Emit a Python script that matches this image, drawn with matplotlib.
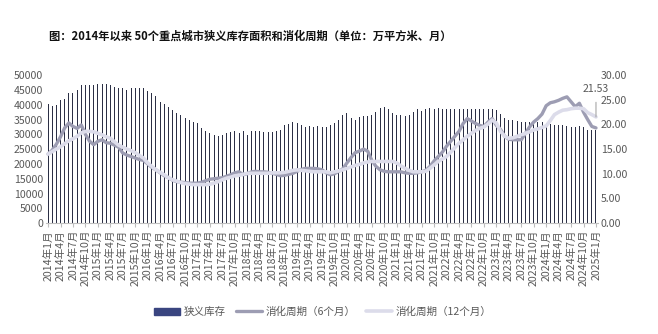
import numpy as np
import matplotlib
matplotlib.use("Agg")
from matplotlib import pyplot as plt

plt.rcParams['font.family'] = ['Noto Sans CJK SC', 'DejaVu Sans']

# 2014年1月 .. 2025年1月, monthly
months = [f"{y}年{m}月" for y in range(2014, 2026) for m in range(1, 13)][:133]

# 狭义库存 (万平方米)
inventory = [
    40400, 39700, 39900, 41500, 42100, 43800, 43800, 44900, 46600, 46600, 46600, 46700,
    47000, 47000, 47000, 46600, 46100, 45700, 45700, 44900, 45700, 45700, 45700, 45500,
    44700, 43800, 42900, 41000, 40400, 39300, 38200, 37100, 36500, 35400, 34800, 34200,
    33700, 32000, 31200, 30300, 29800, 29400, 29800, 30300, 30700, 31000, 30300, 31200,
    29800, 31000, 31200, 31000, 30700, 30700, 30700, 31000, 31500, 33000, 33600, 34300,
    33800, 33000, 32600, 32700, 32600, 32900, 32600, 32600, 33100, 33700, 34800, 36700,
    37100, 35400, 34800, 35900, 36200, 36300, 36700, 37600, 38800, 39300, 38400, 37100,
    36700, 36500, 36300, 36500, 37600, 38400, 38000, 38500, 38800, 38700, 38900, 38500,
    38400, 38400, 38400, 38600, 38400, 38400, 38600, 38700, 38700, 38700, 38600, 38700,
    38300, 37000, 35500, 34800, 34700, 34600, 34300, 34300, 34200, 34300, 34300, 34200,
    33800, 33500, 33200, 33100, 33000, 32700, 32600, 32600, 32800, 32400, 31600, 31500,
    31400,
]

# 消化周期 (月)
cycle_6m = [
    14.0, 14.8, 16.0, 17.5, 19.3, 20.3, 19.6, 19.2, 19.9, 18.0, 16.6, 15.9,
    16.6, 16.9, 16.3, 16.2, 15.8, 15.4, 14.2, 13.8, 13.5, 13.2, 12.9, 12.7,
    12.0, 11.3, 10.8, 10.2, 9.6, 9.2, 8.7, 8.4, 8.3, 8.2, 8.1, 8.1,
    8.1, 8.3, 8.6, 8.9, 9.0, 9.1, 9.2, 9.5, 9.8, 10.2, 10.4, 9.8,
    10.0, 10.4, 10.5, 10.4, 10.4, 10.3, 10.1, 9.9, 9.6, 9.7, 9.9, 10.1,
    10.5, 10.9, 11.1, 11.1, 11.1, 11.0, 10.8, 10.2, 9.8, 10.0, 10.5, 11.0,
    12.2, 13.3, 14.3, 14.6, 15.0, 14.6, 12.7, 11.5, 10.8, 10.5, 10.4, 10.4,
    10.4, 10.4, 10.2, 10.1, 10.1, 10.2, 10.4, 10.7, 11.5, 12.6, 13.5, 14.4,
    15.6, 16.6, 17.6, 18.6, 20.2, 21.2, 20.7, 20.2, 19.8, 19.6, 20.5, 21.2,
    19.8, 19.0, 17.6, 17.0, 16.9, 16.9, 16.9, 18.2, 19.5, 20.5, 21.2, 22.1,
    23.8, 24.4, 24.6, 24.9, 25.3, 25.6, 24.6, 23.6, 24.3, 22.5, 21.0, 19.6,
    19.3,
]
cycle_12m = [
    14.0, 14.5, 15.0, 15.5, 16.1, 16.7, 17.1, 17.6, 18.3, 18.6, 18.6, 18.5,
    18.2, 17.9, 17.5, 17.2, 16.5, 15.8, 15.4, 15.0, 14.7, 14.3, 13.7, 13.2,
    12.2, 11.5, 10.8, 10.3, 9.8, 9.2, 8.8, 8.5, 8.2, 8.0, 7.9, 7.8,
    7.8, 7.8, 7.8, 7.9, 8.1, 8.4, 8.8, 9.1, 9.3, 9.6, 9.7, 9.9,
    10.1, 10.1, 10.1, 10.1, 10.1, 10.1, 10.2, 10.2, 10.2, 10.3, 10.5, 10.7,
    10.8, 10.7, 10.6, 10.5, 10.4, 10.4, 10.4, 10.4, 10.2, 10.4, 10.6, 10.8,
    11.1, 11.4, 11.7, 11.9, 12.2, 12.4, 12.5, 12.5, 12.5, 12.5, 12.5, 12.5,
    12.2, 11.6, 11.1, 10.7, 10.4, 10.4, 10.4, 10.5, 11.1, 11.8, 12.5, 13.0,
    13.5, 14.4, 15.3, 16.2, 16.9, 17.6, 18.2, 18.8, 19.2, 19.5, 20.1, 20.9,
    20.3, 18.6, 17.6, 17.2, 17.3, 17.6, 17.9, 18.2, 18.5, 18.9, 19.1, 19.4,
    19.7, 20.8, 22.0, 22.5, 22.9, 23.0, 23.2, 23.3, 23.3, 23.2, 22.4, 22.0,
    21.53,
]

grey = '#595959'
x = np.arange(len(months))

fig = plt.figure(figsize=(6.58, 3.34), dpi=100)
ax = fig.add_axes([0.0699, 0.332, 0.839, 0.443])
ax2 = ax.twinx()

bars = ax.bar(x, inventory, width=0.24, color='#2b2f45', label='狭义库存')
l6, = ax2.plot(x, cycle_6m, color='#9d9db3', lw=2.4, solid_capstyle='round',
               label='消化周期（6个月）')
l12, = ax2.plot(x, cycle_12m, color='#dcdcea', lw=2.6, solid_capstyle='round',
                label='消化周期（12个月）')
ax.set_zorder(ax2.get_zorder() - 1)
ax2.patch.set_visible(False)

ax.set_xlim(-0.5, len(months) - 0.5)
ax.set_ylim(0, 50000)
ax2.set_ylim(0, 30)
ax.set_yticks(np.arange(0, 50001, 5000))
ax2.set_yticks(np.arange(0, 31, 5))
ax2.set_yticklabels([f"{v:.2f}" for v in np.arange(0, 31, 5)])

ax.set_xticks(x[::3])
ax.set_xticklabels(months[::3], rotation=90, fontsize=7.6, color=grey)

for a in (ax, ax2):
    for s in ('top', 'left', 'right', 'bottom'):
        a.spines[s].set_visible(False)
    a.tick_params(axis='y', length=0, labelsize=7.6, labelcolor=grey, pad=2)
ax.spines['bottom'].set_visible(True)
ax.spines['bottom'].set_color('#bfbfbf')
ax.tick_params(axis='x', length=3, color='#bfbfbf', pad=2)

# last value label of the 12-month line
ax2.annotate(f"{cycle_12m[-1]:.2f}", xy=(x[-1], cycle_12m[-1]),
             xytext=(x[-1], 27.2), ha='center', va='center',
             fontsize=7.6, color=grey,
             arrowprops=dict(arrowstyle='-', color='#a6a6a6', lw=0.8,
                             shrinkA=4, shrinkB=0))

fig.text(0.381, 0.892, '图：2014年以来 50个重点城市狭义库存面积和消化周期（单位：万平方米、月）',
         ha='center', va='center', fontsize=8.1, fontweight='bold', color='#111111')

leg = fig.legend([bars, l6, l12], ['狭义库存', '消化周期（6个月）', '消化周期（12个月）'],
                 loc='center', bbox_to_anchor=(0.49, 0.066), ncol=3, frameon=False,
                 fontsize=7.6, labelcolor=grey, handlelength=2.5, handletextpad=0.3,
                 columnspacing=1.0, handleheight=0.7)
leg.legend_handles[0].set_color('#3a4580')

plt.savefig('out.png', dpi=100)
